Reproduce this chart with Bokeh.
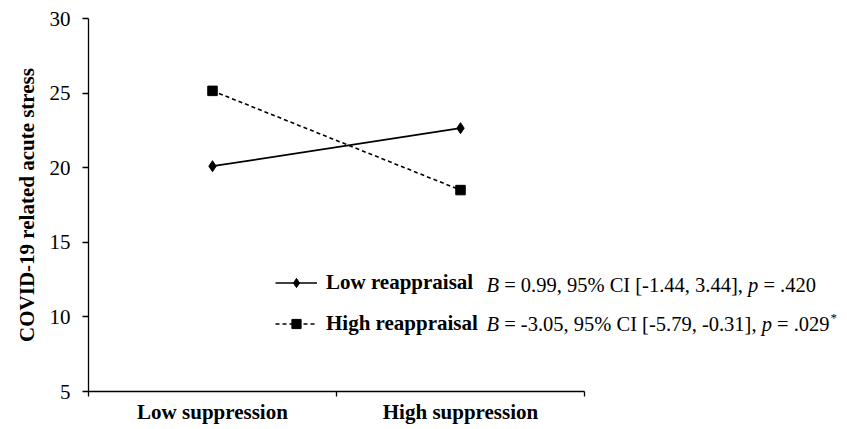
import math
from bokeh.plotting import figure
from bokeh.models import FixedTicker, Legend, LegendItem, Label, Range1d
from bokeh.embed import file_html
from bokeh.resources import INLINE

# ---- data ----
categories = ["Low suppression", "High suppression"]
series_names = ["Low reappraisal", "High reappraisal"]
low_reappraisal = [20.1, 22.65]
high_reappraisal = [25.15, 18.5]
y_ticks = [5, 10, 15, 20, 25, 30]
stats_B = ["0.99", "-3.05"]
stats_ci_low = ["-1.44", "-5.79"]
stats_ci_high = ["3.44", "-0.31"]
stats_p = [".420", ".029"]
stats_sig = ["", "*"]

FONT = "Liberation Serif"
xs = [i + 0.5 for i in range(len(categories))]

W, H = 838, 426
LEFT, TOP, BOTTOM = 88, 18, 31
AXIS_PX = 496                      # pixel length of the category axis
frame_w = W - LEFT
x_end = len(categories) * frame_w / AXIS_PX

p = figure(width=W, height=H, output_backend="svg", toolbar_location=None,
           x_range=Range1d(0, x_end), y_range=Range1d(5, 30),
           min_border_left=LEFT, min_border_right=0, min_border_top=TOP,
           min_border_bottom=BOTTOM)
p.outline_line_color = None
p.grid.visible = False
p.background_fill_color = "white"
p.border_fill_color = "white"

# y axis
ya = p.yaxis[0]
ya.ticker = FixedTicker(ticks=y_ticks)
ya.major_tick_out = 6
ya.major_tick_in = 0
ya.minor_tick_out = 0
ya.minor_tick_in = 0
ya.major_label_standoff = 12
ya.axis_line_color = "black"
ya.axis_line_width = 1.3
ya.major_tick_line_color = "black"
ya.major_tick_line_width = 1.3
ya.major_label_text_font = FONT
ya.major_label_text_font_size = "21px"
ya.major_label_text_color = "black"
ya.axis_label = "COVID-19 related acute stress"
ya.axis_label_text_font = FONT
ya.axis_label_text_font_size = "21px"
ya.axis_label_text_font_style = "bold"
ya.axis_label_text_color = "black"
ya.axis_label_standoff = 8

# x axis
xa = p.xaxis[0]
xa.bounds = (0, len(categories))
xa.ticker = FixedTicker(ticks=xs, minor_ticks=list(range(len(categories) + 1)))
xa.major_label_overrides = {x: c for x, c in zip(xs, categories)}
xa.major_tick_out = 0
xa.major_tick_in = 0
xa.minor_tick_out = 5
xa.minor_tick_in = 0
xa.minor_tick_line_color = "black"
xa.minor_tick_line_width = 1.3
xa.major_label_standoff = 3
xa.axis_line_color = "black"
xa.axis_line_width = 1.3
xa.major_label_text_font = FONT
xa.major_label_text_font_size = "21px"
xa.major_label_text_font_style = "bold"
xa.major_label_text_color = "black"

# series
l1 = p.line(xs, low_reappraisal, line_color="black", line_width=1.7)
m1 = p.scatter(xs, low_reappraisal, marker="diamond", size=11,
               fill_color="black", line_color="black")
l2 = p.line(xs, high_reappraisal, line_color="black", line_width=1.6, line_dash="4 3")
m2 = p.scatter(xs, high_reappraisal, marker="square", size=9.5,
               fill_color="black", line_color="black")

legend = Legend(items=[LegendItem(label=series_names[0], renderers=[l1, m1]),
                       LegendItem(label=series_names[1], renderers=[l2, m2])],
                location=(187, 55), orientation="vertical",
                glyph_width=42, glyph_height=23, label_height=23,
                label_standoff=9, spacing=16, padding=0, margin=0,
                border_line_alpha=0, background_fill_alpha=0,
                label_text_font=FONT, label_text_font_style="bold",
                label_text_font_size="21px", label_text_color="black")
p.add_layout(legend)

# statistics text (mixed italic / normal)
REG = {" ": 250, "=": 564, ".": 250, ",": 250, "%": 833, "C": 667, "I": 333,
       "[": 333, "]": 333, "-": 333, "*": 500}
for d in "0123456789":
    REG[d] = 500
ITA = {"B": 611, "p": 500}
SIZE = 20.5


def width(s, italic):
    tab = ITA if italic else REG
    return sum(tab.get(c, 500) for c in s) / 1000 * SIZE


x_anchor = (486 - 88) / AXIS_PX * len(categories)
y_rows = [12.16, 9.54]
for i in range(len(series_names)):
    segs = [("B", True),
            (f" = {stats_B[i]}, 95% CI [{stats_ci_low[i]}, {stats_ci_high[i]}], ", False),
            ("p", True),
            (f" = {stats_p[i]}", False)]
    off = 0.0
    for s, it in segs:
        stripped = s.lstrip(" ")
        off += width(s[:len(s) - len(stripped)], it)
        p.add_layout(Label(x=x_anchor, y=y_rows[i], x_offset=off, text=stripped,
                           text_font=FONT, text_font_size=f"{SIZE}px",
                           text_font_style="italic" if it else "normal",
                           text_color="black", text_baseline="alphabetic"))
        off += width(stripped, it)
    if stats_sig[i]:
        p.add_layout(Label(x=x_anchor, y=y_rows[i], x_offset=off + 1, y_offset=6,
                           text=stats_sig[i], text_font=FONT, text_font_size="13px",
                           text_color="black", text_baseline="alphabetic"))

open("out.html", "w").write(file_html(p, INLINE))
